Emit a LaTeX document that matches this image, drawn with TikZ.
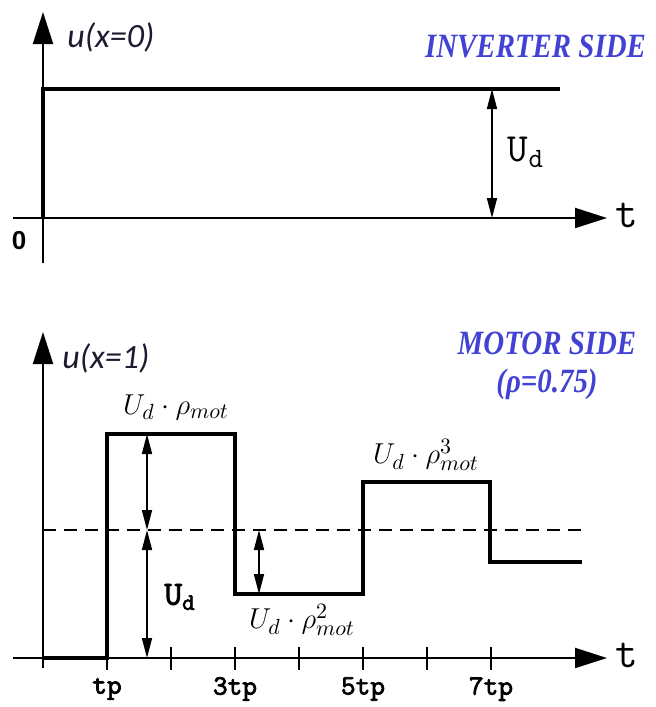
\documentclass[tikz,border=0pt]{standalone}
\usepackage{fontspec}
\usetikzlibrary{arrows.meta,positioning}
\newfontfamily\labelfont{Carlito}
\newfontfamily\headfont{Liberation Serif}[FakeStretch=0.85]
\newfontfamily\zerofont{Liberation Sans}
\newfontfamily\heavytt{lmmono10-regular.otf}[FakeBold=2.5]
\definecolor{sideblue}{RGB}{66,66,212}
\definecolor{labelink}{RGB}{28,28,48}

\begin{document}
\begin{tikzpicture}[x=0.5pt,y=-0.5pt,
    axis/.style={line width=1pt,-{Triangle[length=16pt,width=10pt]}},
    wave/.style={line width=1.6pt,line join=miter},
    dim/.style={line width=0.8pt,{Triangle[length=10pt,width=5pt]}-{Triangle[length=10pt,width=5pt]}},
    tick/.style={line width=1pt},
    side/.style={font=\headfont\bfseries\itshape\fontsize{17}{19}\selectfont,text=sideblue,align=center},
    ulabel/.style={font=\labelfont\itshape\fontsize{17}{19}\selectfont,text=labelink,anchor=west,inner sep=0pt},
    tlabel/.style={font=\heavytt\fontsize{14}{16}\selectfont,inner sep=0pt},
    mlabel/.style={font=\fontsize{15.5}{17}\selectfont,inner sep=0pt}]
\useasboundingbox (0,0) rectangle (656,707);

% inverter side
\coordinate (yb1) at (43,263);
\coordinate (yt1) at (43,12);
\coordinate (xl1) at (13,218);
\coordinate (xr1) at (607,218);
\coordinate (o1) at (43,218);
\coordinate (a1) at (43,89);
\coordinate (a2) at (560,89);
\coordinate (d1) at (492,89);
\coordinate (d2) at (492,218);

\draw[axis] (yb1) -- (yt1);
\draw[axis] (xl1) -- (xr1);
\draw[wave] (o1) -- (a1) -- (a2);
\draw[dim] (d1) -- (d2);

\node[ulabel] (u0) at (67,37) {u(x=0)};
\node[side,anchor=east] (inv) at (653,46) {INVERTER SIDE};
\node[font=\ttfamily\fontsize{20}{22}\selectfont,inner sep=0pt] (ud1) at (526,152) {U\textsubscript{d}};
\node[font=\zerofont\bfseries\fontsize{13}{15}\selectfont,inner sep=0pt] (zero) at (19,241) {0};
\node[font=\ttfamily\fontsize{22}{24}\selectfont,inner sep=0pt] (t1) at (627,215) {t};

% motor side
\coordinate (yb2) at (43,668);
\coordinate (yt2) at (43,332);
\coordinate (xl2) at (13,658);
\coordinate (xr2) at (607,658);
\coordinate (m0) at (43,530);
\coordinate (m1) at (585,530);

\draw[axis] (yb2) -- (yt2);
\draw[axis] (xl2) -- (xr2);
\foreach \k in {1,...,7}
    \draw[tick] ({43+64*\k},647) -- ({43+64*\k},670);
\draw[line width=1pt,dash pattern=on 6.5pt off 4pt] (m0) -- (m1);

\coordinate (w0) at (43,658);
\coordinate (w1) at (107,658);
\coordinate (w2) at (107,434);
\coordinate (w3) at (235,434);
\coordinate (w4) at (235,594);
\coordinate (w5) at (363,594);
\coordinate (w6) at (363,482);
\coordinate (w7) at (490,482);
\coordinate (w8) at (490,562);
\coordinate (w9) at (582,562);
\draw[wave] (w0) -- (w1) -- (w2) -- (w3) -- (w4) -- (w5) -- (w6) -- (w7) -- (w8) -- (w9);

\coordinate (r1) at (147,434);
\coordinate (r2) at (147,530);
\coordinate (r3) at (147,658);
\coordinate (r4) at (259,530);
\coordinate (r5) at (259,594);
\draw[dim] (r1) -- (r2);
\draw[dim] (r2) -- (r3);
\draw[dim] (r4) -- (r5);

\node[ulabel] (u1) at (62,358) {u(x=1)};
\node[side] (mot) at (547,366) {MOTOR SIDE\\(ρ=0.75)};
\node[mlabel] (rho1) at (176,407) {$U_d\cdot\rho_{mot}$};
\node[mlabel] (rho2) at (302,620) {$U_d\cdot\rho_{mot}^2$};
\node[mlabel] (rho3) at (426,455) {$U_d\cdot\rho_{mot}^3$};
\node[font=\heavytt\fontsize{17}{19}\selectfont,inner sep=0pt] (ud2) at (180,597) {U\textsubscript{d}};

\node[tlabel] (tp1) at (107,689) {tp};
\node[tlabel] (tp3) at (235,689) {3tp};
\node[tlabel] (tp5) at (363,689) {5tp};
\node[tlabel] (tp7) at (491,689) {7tp};
\node[font=\ttfamily\fontsize{22}{24}\selectfont,inner sep=0pt] (t2) at (627,655) {t};
\end{tikzpicture}
\end{document}
